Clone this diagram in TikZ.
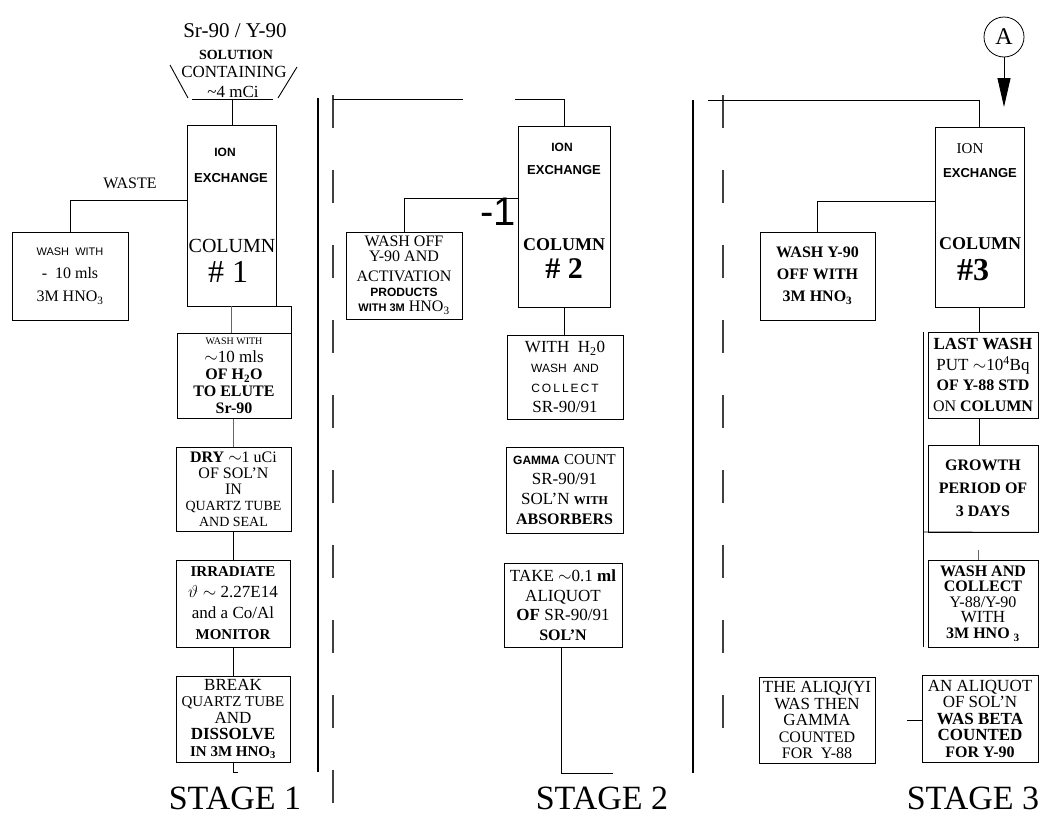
\documentclass[tikz,border=0pt]{standalone}
\usepackage{fontspec}
\setmainfont{Liberation Serif}
\setsansfont{Liberation Sans}
\usetikzlibrary{arrows.meta}
\newcommand\FS[2]{\fontsize{#1}{#2}\selectfont}
\newcommand\SB[1]{{\sffamily\bfseries #1}}
\begin{document}
\begin{tikzpicture}[x=1pt,y=-1pt,
  box/.style={draw, line width=0.9pt, inner sep=0pt, align=center},
  bx/.style 2 args={box, minimum width=#1pt, minimum height=#2pt},
  conn/.style={line width=0.9pt},
  sep/.style={line width=1.2pt},
  dsep/.style={line width=1.3pt, black!75, dash pattern=on 33pt off 42pt},
  lbl/.style={inner sep=0pt},
  stage/.style={lbl, anchor=base, font=\FS{34}{34}}]
\useasboundingbox (0,0) rectangle (1050,817);

% ---------------- STAGE 1 ----------------
\node[lbl, font=\FS{21}{21}] (src) at (235,31) {Sr-90 / Y-90};
\node[lbl, font=\FS{14}{14}\bfseries, text depth=0pt] (sol) at (236,55) {SOLUTION};
\node[lbl, font=\FS{17}{17}, anchor=base, text depth=0pt, text height=11.5pt] (cont) at (234,77) {CONTAINING};
\node[lbl, font=\FS{17}{17}, anchor=base, text height=11pt, text depth=0pt] (mci) at (233,97) {\textasciitilde 4 mCi};
\draw[conn] (170,65) -- (188,98);
\draw[conn] (192,99) -- (273,99);
\draw[conn] (297,67) -- (278,98);
\coordinate (fun) at (232,99);

\node[bx={89}{181}] (col1) at (231.5,215.5) {};
\node[lbl, font=\sffamily\bfseries\FS{12}{12}] (c1a) at (225,152) {ION};
\node[lbl, font=\sffamily\bfseries\FS{13}{13}] (c1b) at (231,178) {EXCHANGE};
\node[lbl, font=\FS{20}{20}] (c1c) at (232,246) {COLUMN};
\node[lbl, font=\FS{32}{32}] (c1d) at (228,272) {\# 1};
\draw[conn] (fun) -- (fun |- col1.north);

\node[lbl, font=\FS{16}{16}] (waste) at (130,183) {WASTE};
\node[bx={116}{88}, font=\FS{16}{23}] (wash1) at (70,276)
  {{\sffamily\FS{11}{23}WASH\ \ WITH}\\- \ 10 mls\\3M HNO\textsubscript{3}};
\coordinate (w1) at (187,200);
\draw[conn] (w1) -| (wash1.north);

\node[bx={114}{85}, font=\FS{16}{17}] (elute) at (234,376)
  {{\FS{10}{12}WASH WITH}\\[1pt]{\FS{17}{17}$\sim$10 mls}\\\textbf{OF H\textsubscript{2}O}\\\textbf{TO ELUTE}\\\textbf{Sr-90}};
\draw[conn] (col1.south east) -- (elute.north east |- col1.south) -- (elute.north east);
\draw[conn, black!60] (col1.south) -- (col1.south |- elute.north);

\node[bx={115}{84}, font=\FS{16}{16}] (dry) at (233.5,489)
  {\textbf{DRY} $\sim$1 uCi\\OF SOL'N\\IN\\{\FS{14}{16}QUARTZ TUBE}\\{\FS{14}{16}AND SEAL}};
\draw[conn, black!60] (elute.south -| dry.north) -- (dry.north);

\node[bx={114}{87}, font=\FS{17}{21}] (irr) at (233,603.5)
  {{\bfseries\FS{15}{21}IRRADIATE}\\$\vartheta\sim$ 2.27E14\\and a Co/Al\\{\bfseries\FS{15}{19}MONITOR}};
\draw[conn] (dry.south -| irr.north) -- (irr.north);

\node[bx={114}{86}, font=\FS{17}{16.5}] (brk) at (233,719)
  {BREAK\\{\FS{15}{16.5}QUARTZ TUBE}\\AND\\\textbf{DISSOLVE}\\{\bfseries\FS{15}{16.5}IN 3M HNO\textsubscript{3}}};
\draw[conn] (irr.south -| brk.north) -- (brk.north);
\coordinate (b1) at (233,772);
\draw[conn] (brk.south) -- (b1) -- ++(5,0);
\node[stage] (st1) at (235,809) {STAGE 1};

% separators
\coordinate (s1a) at (318,98); \coordinate (s1b) at (318,772);
\draw[sep] (s1a) -- (s1b);
\coordinate (d1a) at (333,95); \coordinate (d1b) at (333,812);
\draw[dsep] (d1a) -- (d1b);

% ---------------- STAGE 2 ----------------
\node[bx={92}{181}] (col2) at (564,216.5) {};
\node[lbl, font=\sffamily\bfseries\FS{12}{12}] (c2a) at (562,147) {ION};
\node[lbl, font=\sffamily\bfseries\FS{13}{13}] (c2b) at (564,170) {EXCHANGE};
\node[lbl, font=\bfseries\FS{18}{18}] (c2c) at (564,245) {COLUMN};
\node[lbl, font=\bfseries\FS{30}{30}] (c2d) at (564,269) {\# 2};
\coordinate (t2a) at (515,99); \coordinate (t2b) at (463,99); \coordinate (t2c) at (333,99);
\draw[conn] (col2.north) -- (col2.north |- t2a) -- (t2a);
\draw[conn] (t2b) -- (t2c);
\node[lbl, font=\sffamily\FS{40}{40}] (m1) at (498,212) {-1};

\node[bx={116}{87}, font=\FS{16}{15}] (wo2) at (404,275.5)
  {WASH OFF\\Y-90 AND\\[5pt]ACTIVATION\\{\sffamily\bfseries\FS{12}{14}PRODUCTS}\\{\sffamily\bfseries\FS{11}{15}WITH 3M} HNO\textsubscript{3}};
\coordinate (w2) at (518,198);
\draw[conn] (w2) -| (wo2.north);

\node[bx={116}{84}, font=\FS{17}{20}] (coll) at (565,377)
  {WITH\ \ H\textsubscript{2}0\\{\sffamily\FS{12}{20}WASH\ \ AND}\\{\sffamily\FS{12}{20}C\,O\,L\,L\,E\,C\,T}\\SR-90/91};
\draw[conn] (col2.south) -- (col2.south |- coll.north);

\node[bx={117}{86}, font=\FS{17}{20}] (gam) at (564.5,490)
  {\SB{\FS{12}{20}GAMMA} {\FS{15}{20}COUNT}\\SR-90/91\\SOL'N {\bfseries\FS{12}{20}WITH}\\{\bfseries\FS{16}{20}ABSORBERS}};

\node[bx={118}{84}, font=\FS{17}{19.5}] (take) at (563,605)
  {TAKE $\sim$0.1 \textbf{ml}\\ALIQUOT\\\textbf{OF} SR-90/91\\{\bfseries\FS{16}{19.5}SOL'N}};
\coordinate (t3) at (561,773); \coordinate (t4) at (613,773);
\draw[conn] (take.south -| t3) -- (t3) -- (t4);
\node[stage] (st2) at (602,809) {STAGE 2};

% separators
\coordinate (s2a) at (693,100); \coordinate (s2b) at (693,773);
\draw[sep] (s2a) -- (s2b);
\coordinate (d2a) at (723,95); \coordinate (d2b) at (723,735);
\draw[dsep] (d2a) -- (d2b);

% ---------------- STAGE 3 ----------------
\node[draw, circle, line width=0.8pt, minimum size=40pt, inner sep=0pt, font=\FS{24}{24}] (A) at (1004,37) {A};
\coordinate (aend) at (1004,107);
\draw[conn, -{Triangle[length=29pt,width=13pt]}] (A.south) -- (aend);

\node[bx={89}{180}] (col3) at (979.5,217) {};
\node[lbl, font=\FS{15}{15}] (c3a) at (970,149) {ION};
\node[lbl, font=\sffamily\bfseries\FS{13}{13}] (c3b) at (980,173) {EXCHANGE};
\node[lbl, font=\bfseries\FS{18}{18}] (c3c) at (980,244) {COLUMN};
\node[lbl, font=\bfseries\FS{32}{32}] (c3d) at (973,270) {\#3};
\coordinate (t5) at (708,100);
\draw[conn] (col3.north) -- (col3.north |- t5) -- (t5);

\node[bx={115}{88}, font=\bfseries\FS{16}{22}] (wo3) at (817.5,276)
  {WASH Y-90\\OFF WITH\\3M HNO\textsubscript{3}};
\coordinate (w3) at (935,201);
\draw[conn] (w3) -| (wo3.north);

\node[bx={110}{86}, font=\FS{17}{20.5}] (last) at (983,375)
  {\textbf{LAST WASH}\\PUT $\sim$10\textsuperscript{4}Bq\\{\bfseries\FS{16}{20.5}OF Y-88 STD}\\{\FS{16}{20.5}ON \textbf{COLUMN}}};
\draw[conn] (col3.south) -- (col3.south |- last.north);

\node[bx={110}{87}, font=\bfseries\FS{16}{23}, text depth=0pt] (grow) at (983,488.5)
  {GROWTH\\PERIOD OF\\3 DAYS};
\draw[conn] (last.south -| col3.south) -- (col3.south |- grow.north);

\node[bx={110}{87}, font=\FS{16}{15.5}] (wc) at (983,603.5)
  {\textbf{WASH AND}\\\textbf{COLLECT}\\Y-88/Y-90\\{\FS{17}{17.5}WITH}\\\textbf{3M HNO \textsubscript{3}}};
\coordinate (wct) at (978,550);
\draw[conn, black!60] (wct) -- (wct |- wc.north);

\coordinate (l1) at (923,332); \coordinate (l2) at (923,647); \coordinate (l3) at (923,532);
\draw[conn] (l1) -- (l2);
\draw[conn] (l3) -- (grow.south east);

\node[bx={116}{86}, font=\FS{17}{16.5}] (aq1) at (817,720)
  {THE ALIQJ(YI\\WAS THEN\\GAMMA\\{\FS{16}{17}COUNTED}\\{\FS{16}{16.5}FOR\ \ Y-88}};
\node[bx={116}{87}, font=\FS{17}{16.5}] (aq2) at (980,718.5)
  {AN ALIQUOT\\OF SOL'N\\\textbf{WAS BETA}\\\textbf{COUNTED}\\{\bfseries\FS{16}{16.5}FOR Y-90}};
\coordinate (q1) at (907,720);
\draw[conn] (q1) -- (q1 -| aq2.west);
\node[stage] (st3) at (973,809) {STAGE 3};
\end{tikzpicture}
\end{document}
